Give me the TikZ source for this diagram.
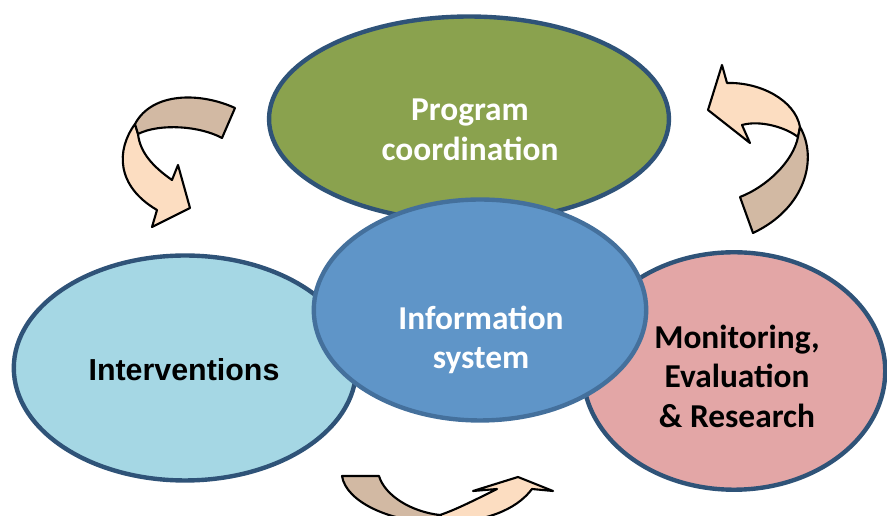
\documentclass[tikz,border=0pt]{standalone}
\usepackage{fontspec}
\setmainfont{Carlito}
\newfontfamily\arialfont{Liberation Sans}
\usetikzlibrary{shapes.geometric}
\definecolor{rim}{HTML}{2F5378}
\definecolor{inforim}{HTML}{44709C}
\definecolor{progfill}{HTML}{8AA24E}
\definecolor{intfill}{HTML}{A5D7E4}
\definecolor{infofill}{HTML}{5F95C8}
\definecolor{merfill}{HTML}{E3A6A6}
\definecolor{tan}{HTML}{D2B9A3}
\definecolor{peach}{HTML}{FCDDC1}
\tikzset{
  bubble/.style={ellipse,draw=rim,line width=2.5pt,inner sep=0pt},
  caption/.style={align=center,inner sep=0pt},
  ribbon/.style={draw=black,line width=1.2pt}
}
\begin{document}
\begin{tikzpicture}[x=0.02cm,y=-0.02cm,line join=round,line cap=round,font=\bfseries\fontsize{19}{22.5}\selectfont]
\useasboundingbox (0,0) rectangle (887,516);
\clip (0,0) rectangle (887,516);
\node[bubble,fill=progfill,minimum width=8.0cm,minimum height=4.1cm] (prog) at (469,119) {};
\node[bubble,fill=intfill,minimum width=6.85cm,minimum height=4.5cm] (interv) at (185,368) {};
\node[bubble,fill=merfill,minimum width=6.05cm,minimum height=4.75cm] (mer) at (734,371) {};
\node[bubble,draw=inforim,fill=infofill,minimum width=6.65cm,minimum height=4.42cm] (info) at (480,310) {};
\node[caption,text=white] (progtext) at (470,130) {Program\\coordination};
\node[caption,font=\arialfont\bfseries\fontsize{17.3}{20}\selectfont] (intervtext) at (184,370) {Interventions};
\node[caption,text=white] (infotext) at (481,340) {Information\\system};
\node[caption] (mertext) at (737,376) {Monitoring,\\Evaluation\\\& Research};
% top left
\draw[ribbon,fill=peach] (135,124) .. controls (116,150) and (116,186) .. (157,210) -- (152,227) -- (190,208)
  -- (178,165) -- (172,180) .. controls (152,166) and (140,152) .. (138,134) -- cycle;
\draw[ribbon,fill=tan] (235,108) .. controls (200,92) and (152,92) .. (135,124) -- (138,134)
  .. controls (160,123) and (200,126) .. (222,138) -- cycle;
% top right
\draw[ribbon,fill=peach] (727,83) .. controls (760,82) and (795,100) .. (800,127) -- (798,137)
  .. controls (785,127) and (760,120) .. (742,125) -- (750,143) -- (708,110) -- (722,65) -- cycle;
\draw[ribbon,fill=tan] (800,127) .. controls (818,158) and (806,208) .. (753,233) -- (740,197)
  .. controls (766,187) and (793,162) .. (798,137) -- cycle;
% bottom
\draw[ribbon,fill=tan] (342,476) -- (379,476) .. controls (385,496) and (412,512) .. (440,515)
  -- (430,522) .. controls (390,521) and (346,502) .. cycle;
\draw[ribbon,fill=peach] (440,515) .. controls (455,510) and (475,500) .. (497,489) -- (473,491)
  -- (518,477) -- (553,491) -- (532,489) .. controls (520,505) and (495,521) .. (445,523) -- cycle;
\end{tikzpicture}
\end{document}
